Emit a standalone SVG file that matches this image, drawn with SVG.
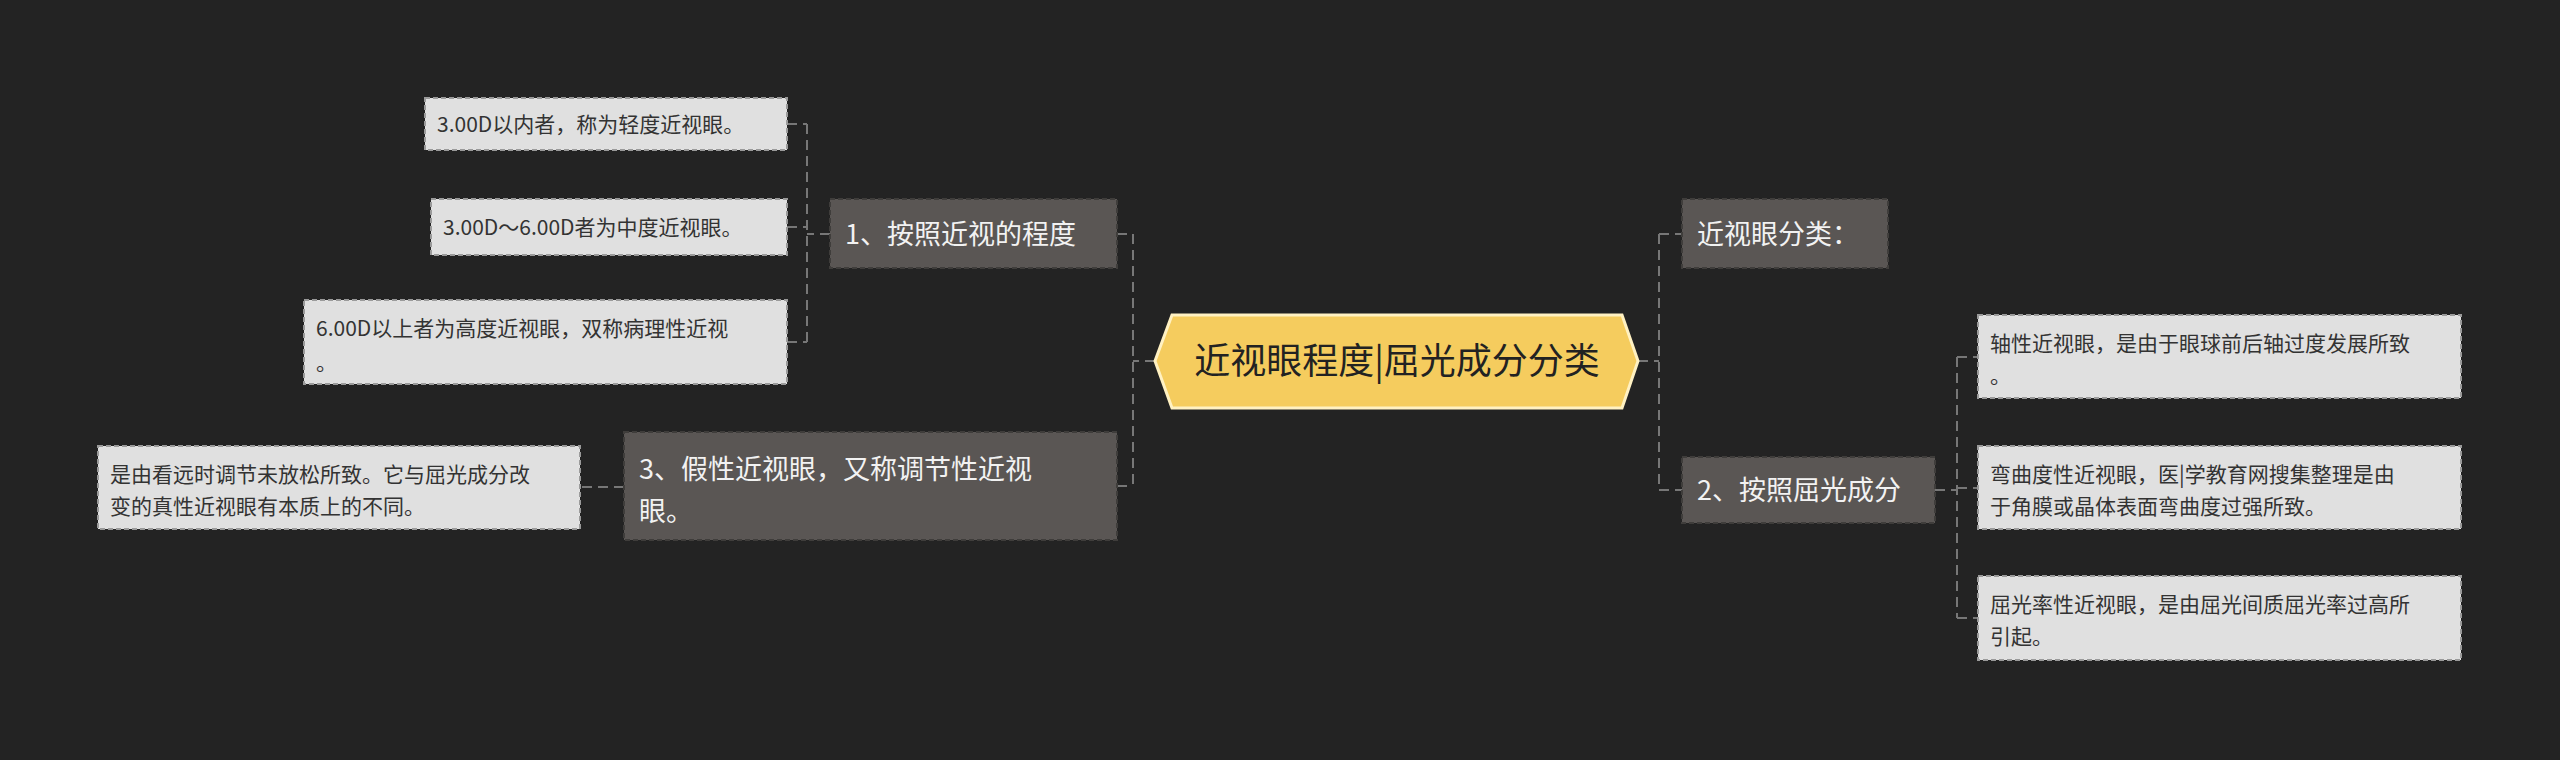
<svg xmlns="http://www.w3.org/2000/svg" width="2560" height="760" viewBox="0 0 2560 760">
<style>
text{font-family:"Noto Sans CJK SC","Noto Sans",sans-serif}
.br rect{fill:#5a5654;stroke:#3f3d3b;stroke-width:2;stroke-dasharray:5 3}
.br text{fill:#f2f2f2;font-size:27px}
.lf rect{fill:#e0e0e0;stroke:#9a9a9a;stroke-width:2;stroke-dasharray:5 3}
.lf text{fill:#333;font-size:21px}
.cn path{fill:none;stroke:#777;stroke-width:2;stroke-dasharray:10 6}
</style>
<rect width="2560" height="760" fill="#232323"/>
<g class="cn">
<path d="M1155 361H1133M1133 234V486M1117 234H1133M1117 486H1133"/>
<path d="M830 234H807M807 124V342M787 124H807M787 227H807M787 342H807"/>
<path d="M624 487H580"/>
<path d="M1638 361H1659M1659 234V490M1659 234H1682M1659 490H1682"/>
<path d="M1935 490H1957M1957 357V618M1957 357H1978M1957 488H1978M1957 618H1978"/>
</g>
<g id="center">
<polygon points="1172,315 1622,315 1638,361 1622,408 1172,408 1155,361" fill="#f5cc5e" stroke="#fff1c2" stroke-width="3"/>
<text x="1397" y="374" text-anchor="middle" font-size="36" fill="#222">近视眼程度|屈光成分分类</text>
</g>
<g id="n1" class="br"><rect x="830" y="199" width="287" height="69"/><text x="845" y="244">1、按照近视的程度</text></g>
<g id="n3" class="br"><rect x="624" y="432" width="493" height="108"/><text x="639" y="479">3、假性近视眼，又称调节性近视</text><text x="639" y="521">眼。</text></g>
<g id="r1" class="br"><rect x="1682" y="199" width="206" height="69"/><text x="1697" y="244">近视眼分类：</text></g>
<g id="r2" class="br"><rect x="1682" y="457" width="253" height="66"/><text x="1697" y="500">2、按照屈光成分</text></g>
<g id="l1" class="lf"><rect x="425" y="98" width="362" height="52"/><text x="437" y="132">3.00D以内者，称为轻度近视眼。</text></g>
<g id="l2" class="lf"><rect x="431" y="199" width="356" height="56"/><text x="443" y="235">3.00D～6.00D者为中度近视眼。</text></g>
<g id="l3" class="lf"><rect x="304" y="300" width="483" height="84"/><text x="316" y="336">6.00D以上者为高度近视眼，双称病理性近视</text><text x="316" y="370">。</text></g>
<g id="l4" class="lf"><rect x="98" y="446" width="482" height="83"/><text x="110" y="482">是由看远时调节未放松所致。它与屈光成分改</text><text x="110" y="514">变的真性近视眼有本质上的不同。</text></g>
<g id="rl1" class="lf"><rect x="1978" y="315" width="483" height="83"/><text x="1990" y="351">轴性近视眼，是由于眼球前后轴过度发展所致</text><text x="1990" y="383">。</text></g>
<g id="rl2" class="lf"><rect x="1978" y="446" width="483" height="83"/><text x="1990" y="482">弯曲度性近视眼，医|学教育网搜集整理是由</text><text x="1990" y="514">于角膜或晶体表面弯曲度过强所致。</text></g>
<g id="rl3" class="lf"><rect x="1978" y="576" width="483" height="84"/><text x="1990" y="612">屈光率性近视眼，是由屈光间质屈光率过高所</text><text x="1990" y="644">引起。</text></g>
</svg>
